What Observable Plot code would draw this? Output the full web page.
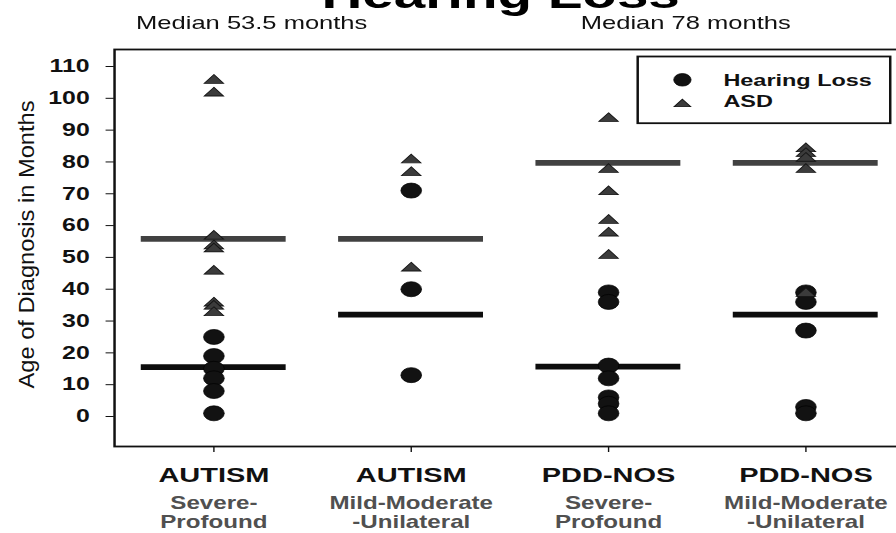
<!DOCTYPE html>
<html><head><meta charset="utf-8">
<script src="https://cdn.jsdelivr.net/npm/d3@7"></script>
<script src="https://cdn.jsdelivr.net/npm/@observablehq/plot@0.6"></script>
<style>
html,body{margin:0;padding:0;background:#fff;}
#outer{width:896px;height:533px;overflow:hidden;position:relative;background:#fff;}
#chart{width:658px;height:533px;transform:scaleX(1.38);transform-origin:0 0;}
</style></head><body>
<div id="outer"><div id="chart"></div></div>
<script>
// ---- data ----
const title = "Hearing Loss";
const medianNotes = ["Median 53.5 months", "Median 78 months"];
const yLabel = "Age of Diagnosis in Months";
const categories = ["AUTISM Severe-Profound", "AUTISM Mild-Moderate-Unilateral", "PDD-NOS Severe-Profound", "PDD-NOS Mild-Moderate-Unilateral"];
const diagnosis = ["AUTISM", "AUTISM", "PDD-NOS", "PDD-NOS"];
const hearingLevel = ["Severe-\nProfound", "Mild-Moderate\n-Unilateral", "Severe-\nProfound", "Mild-Moderate\n-Unilateral"];
const seriesNames = ["Hearing Loss", "ASD"];
const hearingLossAges = [
  [25, 19, 15, 12, 8, 1],
  [71, 40, 13],
  [39, 36, 16, 12, 6, 4, 1],
  [39, 36, 27, 3, 1]
];
const asdAges = [
  [106, 102, 57, 54, 53, 46, 36, 35, 33],
  [81, 77, 47],
  [94, 78, 71, 62, 58, 51],
  [84.5, 83, 81.5, 78, 39]
];
const hearingLossMedians = [15.5, 32, 15.7, 32];
const asdMedians = [55.8, 55.8, 79.7, 79.7];
const yTicks = [0, 10, 20, 30, 40, 50, 60, 70, 80, 90, 100, 110];

// ---- tables ----
const hlRows = categories.flatMap((c, i) => hearingLossAges[i].map(v => ({category: c, age: v})));
const asdRows = categories.flatMap((c, i) => asdAges[i].map(v => ({category: c, age: v})));
const hlMedRows = categories.map((c, i) => ({category: c, age: hearingLossMedians[i]}));
const asdMedRows = categories.map((c, i) => ({category: c, age: asdMedians[i]}));

const flatTriangle = {
  draw(context, size) {
    const r = Math.sqrt(size / Math.PI);
    context.moveTo(0, -0.66 * r);
    context.lineTo(r, 0.58 * r);
    context.lineTo(-r, 0.58 * r);
    context.closePath();
  }
};

const font = "'Liberation Sans', Arial, Helvetica, sans-serif";
const fl = 82.5, ft = 49; // frame left / top (used only for legend & header offsets)

const chart = Plot.plot({
  width: 658,
  height: 533,
  marginLeft: 82.5,
  marginRight: 2.3,
  marginTop: 49,
  marginBottom: 87,
  style: {fontFamily: font, color: "#111", background: "#fff", overflow: "visible"},
  x: {type: "band", domain: categories, paddingInner: 0.266, paddingOuter: 0.133, label: null},
  y: {domain: [-9.43, 115.34], label: null},
  marks: [
    Plot.frame({stroke: "#111", strokeWidth: 1.8}),
    Plot.tickY(asdMedRows, {x: "category", y: "age", stroke: "#414141", strokeWidth: 5.8}),
    Plot.tickY(hlMedRows, {x: "category", y: "age", stroke: "#0d0d0d", strokeWidth: 5.8}),
    Plot.dot(hlRows, {x: "category", y: "age", r: 7.5, fill: "#121212", stroke: "#000", strokeWidth: 0.6}),
    Plot.dot(asdRows, {x: "category", y: "age", r: 7, symbol: flatTriangle, fill: "#3b3b3b", stroke: "#151515", strokeWidth: 0.8}),
    Plot.axisY({ticks: yTicks, tickSize: 6, tickPadding: 12, fontSize: 18, fontWeight: "bold", label: null}),
    Plot.axisX({tickSize: 6, tickPadding: 14.8, fontSize: 21, fontWeight: "bold", label: null,
      tickFormat: d => diagnosis[categories.indexOf(d)]}),
    Plot.text(categories, {x: d => d, text: (d, i) => hearingLevel[i], frameAnchor: "bottom",
      lineAnchor: "bottom", textAnchor: "middle", dy: 81, fontSize: 17.5, fontWeight: "bold",
      fill: "#505050", lineHeight: 1.057}),
    Plot.text([yLabel], {text: d => d, frameAnchor: "left", textAnchor: "middle", lineAnchor: "middle",
      rotate: -90, dx: 18.7 - fl, dy: -3.5, fontSize: 16, fill: "#111"}),
    // header
    Plot.text([title], {text: d => d, frameAnchor: "top-left", textAnchor: "middle", lineAnchor: "bottom",
      dx: 362.3 - fl, dy: 7 - ft, fontSize: 41, fontWeight: "bold", fill: "#000"}),
    Plot.text([medianNotes[0]], {text: d => d, frameAnchor: "top-left", textAnchor: "middle", lineAnchor: "bottom",
      dx: 181.9 - fl, dy: 28.3 - ft, fontSize: 18.5, fill: "#111"}),
    Plot.text([medianNotes[1]], {text: d => d, frameAnchor: "top-left", textAnchor: "middle", lineAnchor: "bottom",
      dx: 496.4 - fl, dy: 28.3 - ft, fontSize: 18.5, fill: "#111"}),
    // legend
    Plot.frame({insetLeft: 379.1, insetRight: 11.1, insetTop: 7, insetBottom: 323.3, fill: "#fff", stroke: "#111", strokeWidth: 1.8}),
    Plot.dot([seriesNames[0]], {frameAnchor: "top-left", dx: 494 - fl, dy: 79.3 - ft, r: 6.3, fill: "#121212", stroke: "#000", strokeWidth: 0.6}),
    Plot.dot([seriesNames[1]], {frameAnchor: "top-left", dx: 494 - fl, dy: 102.7 - ft, r: 6, symbol: flatTriangle, fill: "#3b3b3b", stroke: "#151515", strokeWidth: 0.8}),
    Plot.text([seriesNames[0]], {text: d => d, frameAnchor: "top-left", textAnchor: "start", lineAnchor: "bottom",
      dx: 523.7 - fl, dy: 85 - ft, fontSize: 17, fontWeight: "bold", fill: "#111"}),
    Plot.text([seriesNames[1]], {text: d => d, frameAnchor: "top-left", textAnchor: "start", lineAnchor: "bottom",
      dx: 523.7 - fl, dy: 106.7 - ft, fontSize: 17, fontWeight: "bold", fill: "#111"})
  ]
});

// lengthen the rotated y label along its reading direction
chart.querySelectorAll("text").forEach(t => {
  if (t.textContent === yLabel) {
    const tr = t.getAttribute("transform") || "";
    if (tr.includes("rotate")) t.setAttribute("transform", tr + " scale(1.48,1)");
  }
});

document.getElementById("chart").appendChild(chart);
</script>
</body></html>
